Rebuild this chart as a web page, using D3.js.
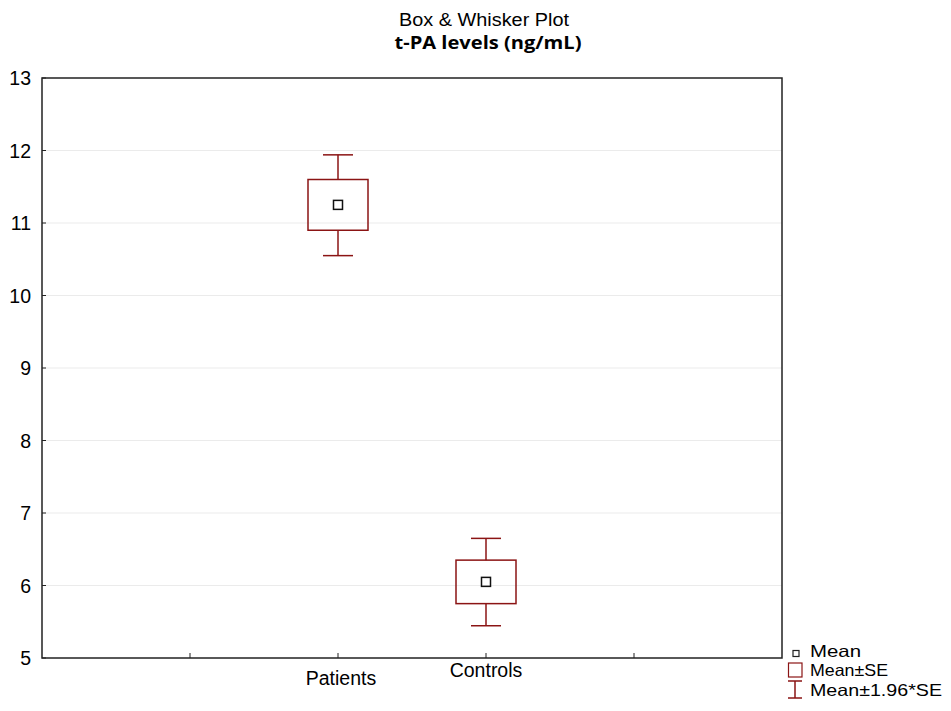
<!DOCTYPE html>
<html>
<head>
<meta charset="utf-8">
<script src="https://cdn.jsdelivr.net/npm/d3@7"></script>
<style>
  body { margin: 0; background: #fff; }
  svg { font-family: "Liberation Sans", Arial, sans-serif; }
</style>
</head>
<body>
<svg id="chart" width="951" height="711"></svg>
<script>
const categories = ['Patients', 'Controls'];
const catPositions = [2, 3];
const means = [11.25, 6.05];
const seLow = [10.90, 5.75];
const seHigh = [11.60, 6.35];
const ciLow = [10.55, 5.445];
const ciHigh = [11.94, 6.65];
const yTicks = [5, 6, 7, 8, 9, 10, 11, 12, 13];
const xTicks = [1, 2, 3, 4];
const legendLabels = ['Mean', 'Mean±SE', 'Mean±1.96*SE'];
const legendWidths = [51, 78, 132];

const svg = d3.select('#chart');
const margin = { top: 78, right: 169, bottom: 53, left: 42 };
const width = 951, height = 711;
const red = '#8b1414';

const x = d3.scaleLinear().domain([0, 5]).range([margin.left, width - margin.right]);
const y = d3.scaleLinear().domain([5, 13]).range([height - margin.bottom, margin.top]);

// titles
svg.append('text').attr('x', 484).attr('y', 26).attr('text-anchor', 'middle')
  .attr('textLength', 170).attr('lengthAdjust', 'spacingAndGlyphs')
  .style('font-size', '17.5px').text('Box & Whisker Plot');
svg.append('text').attr('x', 488).attr('y', 48.5).attr('text-anchor', 'middle')
  .attr('textLength', 187).attr('lengthAdjust', 'spacingAndGlyphs')
  .style('font-family', '"Open Sans", sans-serif')
  .style('font-size', '17.5px').style('font-weight', 'bold').text('t-PA levels  (ng/mL)');

// grid
svg.append('g').selectAll('line').data(yTicks.slice(1, -1)).enter().append('line')
  .attr('x1', x(0)).attr('x2', x(5))
  .attr('y1', d => y(d)).attr('y2', d => y(d))
  .attr('stroke', '#ebebeb').attr('stroke-width', 1);

// y axis labels
svg.append('g').selectAll('text').data(yTicks).enter().append('text')
  .attr('x', 31).attr('y', d => y(d) + 7).attr('text-anchor', 'end')
  .style('font-size', '19.5px').text(d => d);

// y ticks (inward)
svg.append('g').selectAll('line').data(yTicks).enter().append('line')
  .attr('x1', x(0)).attr('x2', x(0) + 4)
  .attr('y1', d => y(d)).attr('y2', d => y(d))
  .attr('stroke', '#222');

// x ticks (inward)
svg.append('g').selectAll('line').data(xTicks).enter().append('line')
  .attr('x1', d => x(d)).attr('x2', d => x(d))
  .attr('y1', y(5)).attr('y2', y(5) - 5)
  .attr('stroke', '#222');

// x labels (staggered like the original)
svg.append('g').selectAll('text').data(categories).enter().append('text')
  .attr('x', (d, i) => x(catPositions[i]) + (i === 0 ? 3 : 0))
  .attr('y', (d, i) => i === 0 ? 685 : 677)
  .attr('text-anchor', 'middle')
  .style('font-size', '19.5px').text(d => d);

// frame
svg.append('rect')
  .attr('x', x(0)).attr('y', y(13))
  .attr('width', x(5) - x(0)).attr('height', y(5) - y(13))
  .attr('fill', 'none').attr('stroke', '#222').attr('stroke-width', 1.5);

// boxes
const boxW = 60, capW = 30, meanS = 9;
const g = svg.append('g').selectAll('g').data(categories).enter().append('g');
g.append('line')
  .attr('x1', (d, i) => x(catPositions[i])).attr('x2', (d, i) => x(catPositions[i]))
  .attr('y1', (d, i) => y(ciHigh[i])).attr('y2', (d, i) => y(seHigh[i]))
  .attr('stroke', red).attr('stroke-width', 1.5);
g.append('line')
  .attr('x1', (d, i) => x(catPositions[i])).attr('x2', (d, i) => x(catPositions[i]))
  .attr('y1', (d, i) => y(seLow[i])).attr('y2', (d, i) => y(ciLow[i]))
  .attr('stroke', red).attr('stroke-width', 1.5);
g.append('line')
  .attr('x1', (d, i) => x(catPositions[i]) - capW / 2).attr('x2', (d, i) => x(catPositions[i]) + capW / 2)
  .attr('y1', (d, i) => y(ciHigh[i])).attr('y2', (d, i) => y(ciHigh[i]))
  .attr('stroke', red).attr('stroke-width', 1.5);
g.append('line')
  .attr('x1', (d, i) => x(catPositions[i]) - capW / 2).attr('x2', (d, i) => x(catPositions[i]) + capW / 2)
  .attr('y1', (d, i) => y(ciLow[i])).attr('y2', (d, i) => y(ciLow[i]))
  .attr('stroke', red).attr('stroke-width', 1.5);
g.append('rect')
  .attr('x', (d, i) => x(catPositions[i]) - boxW / 2)
  .attr('y', (d, i) => y(seHigh[i]))
  .attr('width', boxW)
  .attr('height', (d, i) => y(seLow[i]) - y(seHigh[i]))
  .attr('fill', 'none').attr('stroke', red).attr('stroke-width', 1.5);
g.append('rect')
  .attr('x', (d, i) => x(catPositions[i]) - meanS / 2)
  .attr('y', (d, i) => y(means[i]) - meanS / 2)
  .attr('width', meanS).attr('height', meanS)
  .attr('fill', 'none').attr('stroke', '#111').attr('stroke-width', 1.5);

// legend
const lg = svg.append('g');
lg.append('rect').attr('x', 793).attr('y', 650.5).attr('width', 6).attr('height', 6)
  .attr('fill', 'none').attr('stroke', '#222').attr('stroke-width', 1.2);
lg.append('rect').attr('x', 788.5).attr('y', 663).attr('width', 13.5).attr('height', 14)
  .attr('fill', 'none').attr('stroke', red).attr('stroke-width', 1.2);
lg.append('path').attr('d', 'M788,681H802M795,681V698M788,698H802')
  .attr('fill', 'none').attr('stroke', red).attr('stroke-width', 1.5);
lg.selectAll('text').data(legendLabels).enter().append('text')
  .attr('x', 810).attr('y', (d, i) => [657, 676, 696][i])
  .attr('textLength', (d, i) => legendWidths[i]).attr('lengthAdjust', 'spacingAndGlyphs')
  .style('font-size', '16.5px').text(d => d);
</script>
</body>
</html>
